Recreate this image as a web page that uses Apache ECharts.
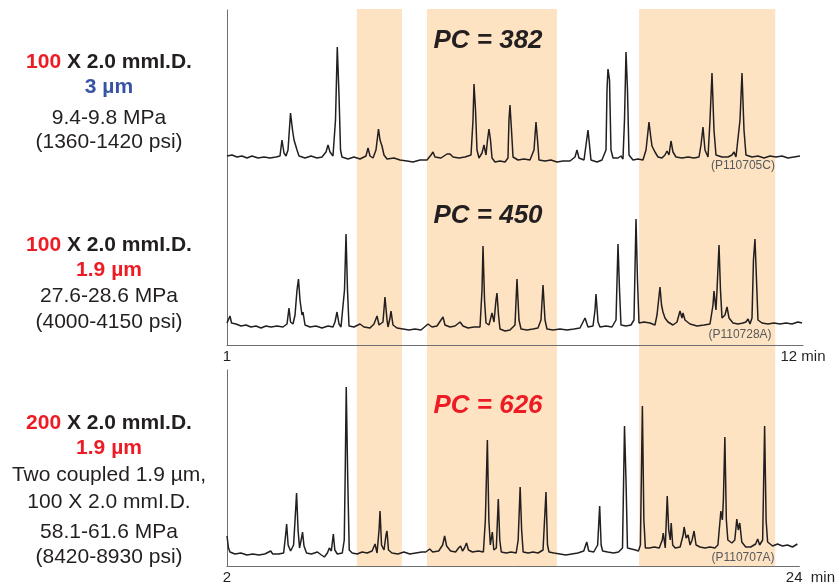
<!DOCTYPE html>
<html>
<head>
<meta charset="utf-8">
<script src="https://cdn.jsdelivr.net/npm/echarts@6/dist/echarts.min.js"></script>
<style>
  html, body { margin: 0; padding: 0; background: #fff; }
  #main { width: 838px; height: 585px; }
</style>
</head>
<body>
<div id="main"></div>
<script>
// time in minutes, intensity in arbitrary units
var trace1 = [[1.000,24],[1.095,25],[1.191,23],[1.286,24],[1.382,22],[1.477,24],[1.592,22],[1.707,23],[1.821,22],[1.936,23],[2.012,24],[2.050,40],[2.089,27],[2.127,24],[2.165,30],[2.213,67],[2.251,50],[2.280,40],[2.299,42],[2.337,30],[2.375,24],[2.490,22],[2.604,24],[2.719,22],[2.814,23],[2.891,28],[2.929,35],[2.967,28],[3.024,24],[3.072,60],[3.106,133],[3.139,85],[3.168,30],[3.196,23],[3.311,21],[3.425,23],[3.540,21],[3.654,24],[3.693,32],[3.731,24],[3.788,22],[3.845,30],[3.893,51],[3.922,40],[3.960,34],[3.998,25],[4.056,21],[4.189,22],[4.304,20],[4.437,19],[4.552,18],[4.686,20],[4.819,20],[4.896,25],[4.934,28],[4.972,23],[5.087,22],[5.201,26],[5.259,26],[5.316,23],[5.431,22],[5.545,23],[5.660,25],[5.698,60],[5.717,96],[5.746,70],[5.774,30],[5.812,22],[5.870,27],[5.908,35],[5.946,25],[5.975,40],[6.003,51],[6.032,40],[6.061,22],[6.118,18],[6.213,19],[6.309,18],[6.366,22],[6.385,60],[6.404,75],[6.433,50],[6.462,23],[6.557,20],[6.672,21],[6.786,20],[6.863,30],[6.901,58],[6.930,40],[6.958,20],[7.073,19],[7.187,20],[7.302,18],[7.417,19],[7.550,19],[7.646,23],[7.684,30],[7.722,22],[7.818,20],[7.856,35],[7.894,50],[7.923,35],[7.951,20],[8.066,18],[8.161,20],[8.238,30],[8.257,90],[8.276,111],[8.305,100],[8.333,30],[8.372,22],[8.467,22],[8.524,24],[8.562,21],[8.591,60],[8.620,128],[8.648,90],[8.677,25],[8.753,20],[8.849,21],[8.944,20],[9.002,30],[9.059,58],[9.088,45],[9.116,34],[9.135,36],[9.173,28],[9.231,23],[9.307,22],[9.364,25],[9.403,29],[9.441,25],[9.479,39],[9.517,28],[9.575,23],[9.689,22],[9.804,23],[9.918,22],[10.014,23],[10.052,35],[10.090,53],[10.128,30],[10.186,23],[10.224,60],[10.262,107],[10.300,50],[10.338,25],[10.453,23],[10.568,23],[10.644,25],[10.682,28],[10.720,23],[10.797,60],[10.835,107],[10.873,50],[10.911,25],[11.026,23],[11.140,24],[11.255,22],[11.370,24],[11.484,23],[11.599,24],[11.713,22],[11.828,23],[11.943,24]];

var trace2 = [[1.000,22],[1.038,23],[1.057,29],[1.086,22],[1.172,21],[1.267,19],[1.363,20],[1.458,18],[1.554,19],[1.649,17],[1.745,19],[1.840,18],[1.955,19],[2.069,18],[2.146,21],[2.184,37],[2.213,23],[2.260,21],[2.299,30],[2.337,55],[2.365,66],[2.394,45],[2.432,30],[2.451,33],[2.490,20],[2.585,18],[2.700,19],[2.814,17],[2.929,19],[3.024,18],[3.062,23],[3.101,33],[3.139,21],[3.177,18],[3.215,19],[3.244,55],[3.273,111],[3.301,55],[3.330,19],[3.425,18],[3.540,21],[3.616,18],[3.731,17],[3.807,21],[3.865,29],[3.903,20],[3.979,23],[4.017,48],[4.056,25],[4.075,18],[4.113,27],[4.132,34],[4.170,20],[4.246,17],[4.361,16],[4.476,15],[4.590,16],[4.705,15],[4.839,21],[4.915,18],[5.010,19],[5.125,28],[5.163,20],[5.259,18],[5.354,19],[5.450,23],[5.507,19],[5.602,17],[5.717,18],[5.832,18],[5.870,55],[5.889,99],[5.918,45],[5.946,22],[6.003,20],[6.061,32],[6.099,23],[6.137,45],[6.156,52],[6.185,30],[6.213,16],[6.309,14],[6.404,15],[6.500,20],[6.538,66],[6.576,25],[6.615,16],[6.729,15],[6.844,16],[6.939,17],[6.996,25],[7.035,60],[7.073,25],[7.111,16],[7.226,15],[7.359,16],[7.493,15],[7.627,16],[7.741,17],[7.837,27],[7.894,18],[7.990,19],[8.028,35],[8.047,51],[8.085,23],[8.123,18],[8.238,19],[8.352,18],[8.429,25],[8.467,101],[8.496,55],[8.524,20],[8.620,19],[8.715,20],[8.772,25],[8.811,126],[8.839,65],[8.868,22],[8.963,23],[9.078,22],[9.173,20],[9.212,30],[9.269,58],[9.298,40],[9.326,33],[9.364,27],[9.422,23],[9.517,20],[9.594,23],[9.651,34],[9.689,27],[9.708,32],[9.746,25],[9.842,21],[9.976,19],[10.109,20],[10.224,21],[10.281,40],[10.300,54],[10.338,35],[10.358,55],[10.396,100],[10.424,55],[10.453,27],[10.510,30],[10.549,38],[10.587,27],[10.663,22],[10.759,21],[10.854,22],[10.911,23],[10.950,26],[10.988,21],[11.026,27],[11.054,85],[11.083,106],[11.112,65],[11.140,25],[11.217,22],[11.331,21],[11.446,22],[11.561,21],[11.675,22],[11.790,21],[11.904,23],[11.981,22]];

var trace3 = [[2.000,30],[2.057,18],[2.115,14],[2.306,12],[2.535,13],[2.764,11],[2.993,12],[3.222,11],[3.451,12],[3.681,15],[3.757,12],[3.986,12],[4.177,13],[4.253,31],[4.292,42],[4.349,21],[4.444,15],[4.559,21],[4.616,46],[4.674,73],[4.731,36],[4.788,18],[4.865,28],[4.903,34],[4.960,20],[5.056,13],[5.246,12],[5.476,14],[5.628,11],[5.743,9],[5.858,13],[5.934,18],[6.010,15],[6.087,32],[6.144,16],[6.240,12],[6.431,13],[6.507,26],[6.545,96],[6.583,179],[6.641,86],[6.698,16],[6.812,13],[7.003,12],[7.194,14],[7.385,13],[7.576,15],[7.691,22],[7.767,13],[7.844,36],[7.882,55],[7.939,21],[8.035,16],[8.111,31],[8.149,35],[8.207,16],[8.340,13],[8.569,12],[8.799,14],[9.028,12],[9.257,13],[9.486,14],[9.639,14],[9.792,17],[9.906,14],[10.135,15],[10.288,21],[10.364,30],[10.441,20],[10.594,15],[10.785,14],[10.899,18],[10.976,20],[11.052,15],[11.128,18],[11.205,23],[11.281,16],[11.434,14],[11.663,15],[11.854,14],[11.930,46],[12.007,126],[12.064,46],[12.121,21],[12.198,34],[12.255,16],[12.351,18],[12.427,67],[12.484,26],[12.542,14],[12.733,13],[12.923,14],[13.114,13],[13.191,26],[13.267,79],[13.324,36],[13.382,14],[13.573,13],[13.764,14],[13.955,13],[14.146,16],[14.260,74],[14.318,21],[14.375,14],[14.566,13],[14.795,12],[15.024,11],[15.253,12],[15.482,13],[15.712,15],[15.826,24],[15.903,15],[16.094,14],[16.246,21],[16.323,60],[16.380,21],[16.437,15],[16.628,14],[16.857,13],[17.048,14],[17.201,18],[17.278,140],[17.335,86],[17.392,18],[17.545,17],[17.698,16],[17.812,15],[17.889,21],[17.965,160],[18.022,46],[18.080,18],[18.232,18],[18.423,19],[18.614,18],[18.729,26],[18.767,33],[18.844,18],[18.920,70],[18.977,36],[19.035,26],[19.073,43],[19.130,21],[19.225,18],[19.416,19],[19.531,31],[19.569,39],[19.646,28],[19.722,31],[19.798,21],[19.875,26],[19.951,35],[20.028,21],[20.180,19],[20.371,18],[20.562,19],[20.753,18],[20.868,21],[20.982,55],[21.039,46],[21.078,66],[21.135,129],[21.192,46],[21.250,26],[21.403,23],[21.517,26],[21.594,47],[21.651,36],[21.708,43],[21.785,24],[21.937,19],[22.128,19],[22.319,22],[22.396,27],[22.472,21],[22.587,26],[22.663,140],[22.720,46],[22.778,24],[22.969,20],[23.160,22],[23.351,20],[23.542,21],[23.732,19],[23.923,22]];

// shaded regions, in minutes of the 12 min runs
var bands = [[3.48, 4.34], [4.82, 7.30], [8.87, 11.47]];

var topTicks = [1, 12];
var bottomTicks = [2, 24];
var runIds = ['(P110705C)', '(P110728A)', '(P110707A)'];
var pcLabels = ['PC = 382', 'PC = 450', 'PC = 626'];

var FONT = '"Liberation Sans", Arial, Helvetica, sans-serif';
var INK = '#231f20', RED = '#ed1c24', BLUE = '#3953a4', GRAY = '#6d6e71', BAND = '#fde3c2';

// left side column descriptions
var colLines = [
  [62, 'bold', INK, '{r|100} X 2.0 mmI.D.'],
  [87, 'bold', BLUE, '3 µm'],
  [118, 'normal', INK, '9.4-9.8 MPa'],
  [142, 'normal', INK, '(1360-1420 psi)'],
  [245, 'bold', INK, '{r|100} X 2.0 mmI.D.'],
  [270, 'bold', RED, '1.9 µm'],
  [296, 'normal', INK, '27.6-28.6 MPa'],
  [322, 'normal', INK, '(4000-4150 psi)'],
  [423, 'bold', INK, '{r|200} X 2.0 mmI.D.'],
  [448, 'bold', RED, '1.9 µm'],
  [475, 'normal', INK, 'Two coupled 1.9 µm,'],
  [502, 'normal', INK, '100 X 2.0 mmI.D.'],
  [532, 'normal', INK, '58.1-61.6 MPa'],
  [557, 'normal', INK, '(8420-8930 psi)']
];

var chart = echarts.init(document.getElementById('main'));

function yAx(i, max) {
  return {
    type: 'value', gridIndex: i, min: 0, max: max,
    axisLine: { show: true, onZero: false, lineStyle: { color: GRAY, width: 1 } },
    axisTick: { show: false }, axisLabel: { show: false }, splitLine: { show: false }
  };
}

function xAx(i, ticks, show) {
  return {
    type: 'value', gridIndex: i, min: ticks[0], max: ticks[1], show: show,
    axisLine: { show: true, onZero: false, lineStyle: { color: GRAY, width: 1 } },
    axisTick: { show: false }, splitLine: { show: false },
    axisLabel: {
      customValues: ticks, margin: 4, color: INK, fontSize: 15, fontFamily: FONT,
      formatter: function (v) { return v === ticks[1] ? '{m|' + v + (v === 24 ? '  min' : ' min') + '}' : String(v); },
      rich: { m: { fontSize: 15, fontFamily: FONT, color: INK, padding: [0, 0, 0, ticks[1] === 24 ? 22 : 0] } }
    }
  };
}

function trace(i, data) {
  return {
    type: 'line', xAxisIndex: i, yAxisIndex: i, data: data,
    showSymbol: false, symbol: 'none', silent: true,
    lineStyle: { color: INK, width: 1.5 }
  };
}

var graphics = [];
colLines.forEach(function (l, i) {
  graphics.push({
    type: 'text', id: 'col' + i, x: 109, y: l[0], z: 10,
    style: {
      text: l[3], fill: l[2], fontSize: 21, fontWeight: l[1], fontFamily: FONT,
      align: 'center', verticalAlign: 'middle',
      rich: { r: { fill: RED, fontSize: 21, fontWeight: 'bold', fontFamily: FONT } }
    }
  });
});
[41, 216, 406].forEach(function (y, i) {
  graphics.push({
    type: 'text', id: 'pc' + i, x: 488, y: y, z: 10,
    style: {
      text: pcLabels[i], fill: i === 2 ? RED : INK, fontSize: 26, fontWeight: 'bold',
      fontStyle: 'italic', fontFamily: FONT, align: 'center', verticalAlign: 'middle'
    }
  });
});
[[743, 166], [740, 335], [743, 558]].forEach(function (p, i) {
  graphics.push({
    type: 'text', id: 'run' + i, x: p[0], y: p[1], z: 10,
    style: { text: runIds[i], fill: '#58595b', fontSize: 12, fontFamily: FONT, align: 'center', verticalAlign: 'middle' }
  });
});

chart.setOption({
  animation: false,
  grid: [
    { left: 227, right: 35, top: 10, height: 170 },
    { left: 227, right: 35, top: 180, height: 165 },
    { left: 227, right: 35, top: 370, height: 196 }
  ],
  xAxis: [xAx(0, topTicks, false), xAx(1, topTicks, true), xAx(2, bottomTicks, true)],
  yAxis: [yAx(0, 170), yAx(1, 165), yAx(2, 196)],
  series: [trace(0, trace1), trace(1, trace2), trace(2, trace3)],
  graphic: graphics
});

// shaded bands run through all three panels
var yTop = chart.convertToPixel({ yAxisIndex: 0 }, 170) - 1;
var yBot = chart.convertToPixel({ yAxisIndex: 2 }, 0);
chart.setOption({
  graphic: bands.map(function (b, i) {
    var x0 = chart.convertToPixel({ xAxisIndex: 1 }, b[0]);
    var x1 = chart.convertToPixel({ xAxisIndex: 1 }, b[1]);
    return {
      type: 'rect', id: 'band' + i, z: -1, silent: true,
      shape: { x: x0, y: yTop, width: x1 - x0, height: yBot - yTop },
      style: { fill: BAND }
    };
  })
});
</script>
</body>
</html>
